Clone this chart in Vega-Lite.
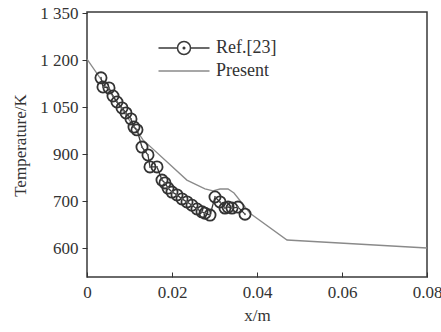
{
  "$schema": "https://vega.github.io/schema/vega-lite/v6.json",
  "autosize": "none",
  "width": 340,
  "height": 265,
  "padding": {"left": 87, "top": 12, "right": 14, "bottom": 55},
  "background": "white",
  "config": {
    "view": {"stroke": "#3a3a3a", "strokeWidth": 1.5},
    "font": "Liberation Serif",
    "axis": {"labelFont": "Liberation Serif", "titleFont": "Liberation Serif", "labelColor": "#333", "titleColor": "#333", "tickColor": "#333", "grid": false, "domain": false, "titleFontWeight": "normal"}
  },
  "data": {"values": [
    {"x": 0, "T": 1203, "series": "Present"},
    {"x": 0.01318, "T": 945, "series": "Present"},
    {"x": 0.0186, "T": 870, "series": "Present"},
    {"x": 0.0235, "T": 789, "series": "Present"},
    {"x": 0.02776, "T": 752, "series": "Present"},
    {"x": 0.02965, "T": 743, "series": "Present"},
    {"x": 0.03129, "T": 751, "series": "Present"},
    {"x": 0.03318, "T": 751, "series": "Present"},
    {"x": 0.03459, "T": 734, "series": "Present"},
    {"x": 0.03835, "T": 674, "series": "Present"},
    {"x": 0.04706, "T": 617, "series": "Present"},
    {"x": 0.08, "T": 600, "series": "Present"},
    {"x": 0.00329, "T": 1143, "series": "Ref.[23]"},
    {"x": 0.00376, "T": 1114, "series": "Ref.[23]"},
    {"x": 0.00518, "T": 1111, "series": "Ref.[23]"},
    {"x": 0.00612, "T": 1085, "series": "Ref.[23]"},
    {"x": 0.00706, "T": 1066, "series": "Ref.[23]"},
    {"x": 0.00824, "T": 1047, "series": "Ref.[23]"},
    {"x": 0.00918, "T": 1031, "series": "Ref.[23]"},
    {"x": 0.01035, "T": 1012, "series": "Ref.[23]"},
    {"x": 0.01106, "T": 986, "series": "Ref.[23]"},
    {"x": 0.01176, "T": 977, "series": "Ref.[23]"},
    {"x": 0.01294, "T": 922, "series": "Ref.[23]"},
    {"x": 0.01435, "T": 896, "series": "Ref.[23]"},
    {"x": 0.01482, "T": 845, "series": "Ref.[23]"},
    {"x": 0.01647, "T": 845, "series": "Ref.[23]"},
    {"x": 0.01765, "T": 789, "series": "Ref.[23]"},
    {"x": 0.01835, "T": 777, "series": "Ref.[23]"},
    {"x": 0.01906, "T": 755, "series": "Ref.[23]"},
    {"x": 0.02, "T": 738, "series": "Ref.[23]"},
    {"x": 0.02118, "T": 726, "series": "Ref.[23]"},
    {"x": 0.02235, "T": 709, "series": "Ref.[23]"},
    {"x": 0.02353, "T": 698, "series": "Ref.[23]"},
    {"x": 0.02471, "T": 691, "series": "Ref.[23]"},
    {"x": 0.02588, "T": 683, "series": "Ref.[23]"},
    {"x": 0.02706, "T": 677, "series": "Ref.[23]"},
    {"x": 0.02776, "T": 674, "series": "Ref.[23]"},
    {"x": 0.02894, "T": 670, "series": "Ref.[23]"},
    {"x": 0.03012, "T": 717, "series": "Ref.[23]"},
    {"x": 0.03129, "T": 698, "series": "Ref.[23]"},
    {"x": 0.03247, "T": 685, "series": "Ref.[23]"},
    {"x": 0.03318, "T": 687, "series": "Ref.[23]"},
    {"x": 0.03412, "T": 685, "series": "Ref.[23]"},
    {"x": 0.03553, "T": 687, "series": "Ref.[23]"},
    {"x": 0.03718, "T": 672, "series": "Ref.[23]"}
  ]},
  "encoding": {
    "x": {"field": "x", "type": "quantitative",
      "scale": {"domain": [0, 0.08], "nice": false, "zero": false},
      "axis": {"values": [0, 0.02, 0.04, 0.06, 0.08], "labelExpr": "datum.value === 0 ? '0' : format(datum.value, '.2f')", "tickSize": -5, "labelPadding": 12, "labelFontSize": 17, "title": "x/m", "titleFontSize": 17, "titlePadding": 7, "labelFlush": false}},
    "y": {"field": "T", "type": "quantitative",
      "scale": {"domain": [538, 600, 700, 900, 1050, 1200, 1350], "range": [265, 236, 189, 142, 95, 48, 1], "nice": false, "zero": false},
      "axis": {"values": [600, 700, 900, 1050, 1200, 1350], "labelExpr": "replace(format(datum.value, ','), ',', ' ')", "tickSize": 5, "labelPadding": 4, "labelFontSize": 17, "title": "Temperature/K", "titleFontSize": 17, "titlePadding": 10}}
  },
  "layer": [
    {
      "mark": {"type": "line", "strokeWidth": 1.3},
      "encoding": {
        "color": {"field": "series", "type": "nominal",
          "scale": {"domain": ["Ref.[23]", "Present"], "range": ["#3a3a3a", "#8a8a8a"]},
          "legend": {"title": null, "orient": "none", "legendX": 86, "legendY": 25, "padding": 0,
            "symbolType": "M-2.55,0H-0.75M0.75,0H2.55", "symbolSize": 400, "symbolStrokeWidth": 1.5, "symbolFillColor": "transparent",
            "labelFont": "Liberation Serif", "labelFontSize": 18, "labelColor": "#333", "labelOffset": 21, "rowPadding": 2,
            "encode": {"symbols": {"update": {"shape": {"signal": "datum.value === 'Ref.[23]' ? 'M-2.55,0H-0.65M0.65,0H2.55M0.65,0A0.65,0.65,0,1,1,-0.65,0A0.65,0.65,0,1,1,0.65,0M0.08,0A0.08,0.08,0,1,1,-0.08,0A0.08,0.08,0,1,1,0.08,0' : 'M-2.55,0H2.55'"}, "fill": {"value": "transparent"}}}}}}
      }
    },
    {
      "transform": [{"filter": "datum.series === 'Ref.[23]'"}],
      "mark": {"type": "point", "shape": "circle", "filled": false, "size": 125, "stroke": "#333", "strokeWidth": 1.8, "opacity": 1}
    },
    {
      "transform": [{"filter": "datum.series === 'Ref.[23]'"}],
      "mark": {"type": "point", "shape": "circle", "filled": true, "size": 4, "color": "#666", "opacity": 1}
    }
  ]
}
